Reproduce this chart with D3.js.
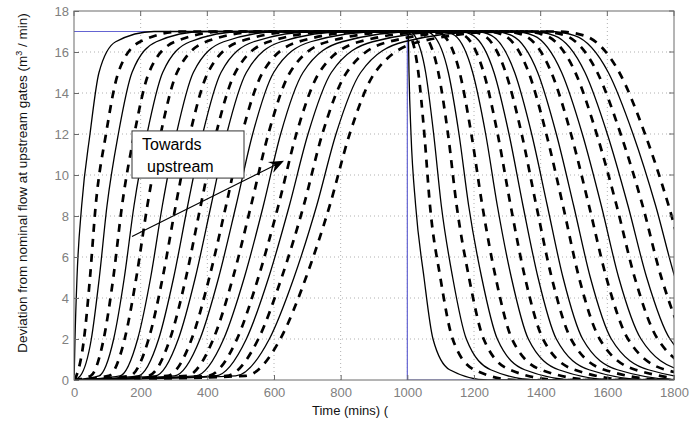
<!DOCTYPE html>
<html>
<head>
<meta charset="utf-8">
<script src="https://cdn.jsdelivr.net/npm/d3@7"></script>
<style>
  html, body { margin: 0; padding: 0; background: #fff; }
  svg { display: block; font-family: "Liberation Sans", Arial, sans-serif; }
</style>
</head>
<body>
<svg id="chart" width="690" height="425"></svg>
<script>
// Axis ticks
const xTicks = [0, 200, 400, 600, 800, 1000, 1200, 1400, 1600, 1800];
const yTicks = [0, 2, 4, 6, 8, 10, 12, 14, 16, 18];

// Gate-flow set-point (step up at t=0, step down at t=1000)
const setpointT = [0, 1000, 1000, 1800];
const setpointQ = [17, 17, 0, 0];

// Rising branch: time (min) at which each of the 20 gate responses crosses a flow level
const riseLevels = [0.2, 2, 5, 8.5, 12, 15, 16.5];
const riseT02  = [0.5, 7, 19, 50, 75, 104, 138, 167, 192, 223, 244, 280, 301, 338, 365, 401, 425, 457, 485, 514];
const riseT2   = [3, 30, 52, 89, 119, 152, 191, 224, 254, 288, 313, 353, 378, 418, 449, 489, 517, 553, 586, 619];
const riseT5   = [9, 48, 76, 118, 151, 187, 230, 266, 299, 336, 364, 406, 434, 477, 511, 553, 584, 623, 660, 696];
const riseT85  = [23, 65, 99, 144, 180, 220, 265, 305, 341, 380, 411, 456, 486, 531, 568, 613, 646, 689, 728, 767];
const riseT12  = [48, 96, 133, 181, 219, 260, 307, 348, 386, 426, 458, 504, 536, 583, 620, 667, 702, 745, 786, 827];
const riseT15  = [75, 133, 174, 225, 266, 309, 358, 402, 441, 484, 517, 566, 599, 648, 687, 736, 772, 818, 860, 903];
const riseT165 = [125, 198, 247, 303, 348, 396, 449, 496, 539, 584, 621, 673, 710, 761, 804, 856, 896, 944, 990, 1036];
// time at which each response settles on the 17 m3/min plateau / leaves it again
const riseTop  = [240, 323, 387, 453, 507, 562, 622, 677, 726, 778, 821, 879, 922, 980, 1029, 1087, 1133, 1188, 1240, 1292];
const fallTop  = [1000, 1002, 1008, 1035, 1055, 1080, 1110, 1135, 1158, 1185, 1205, 1240, 1260, 1295, 1318, 1350, 1372, 1400, 1425, 1450];

// Falling branch: time (min) at which each response crosses a flow level
const fallLevels = [16.8, 15, 12, 8.5, 5, 2, 0.5];
const fallT168 = [1003, 1010, 1022, 1054, 1079, 1109, 1143, 1172, 1198, 1230, 1253, 1291, 1314, 1352, 1379, 1416, 1441, 1474, 1502, 1531];
const fallT15  = [1005, 1033, 1055, 1093, 1123, 1157, 1196, 1229, 1260, 1295, 1322, 1364, 1391, 1432, 1463, 1504, 1533, 1570, 1603, 1636];
const fallT12  = [1011, 1051, 1079, 1122, 1155, 1192, 1235, 1271, 1305, 1343, 1373, 1417, 1447, 1491, 1525, 1568, 1600, 1640, 1677, 1713];
const fallT85  = [1025, 1068, 1102, 1148, 1184, 1225, 1270, 1310, 1347, 1387, 1420, 1467, 1499, 1545, 1582, 1628, 1662, 1706, 1745, 1784];
const fallT5   = [1050, 1099, 1136, 1185, 1223, 1265, 1312, 1353, 1392, 1433, 1467, 1515, 1549, 1597, 1634, 1682, 1718, 1762, 1803, 1844];
const fallT2   = [1077, 1136, 1177, 1229, 1270, 1314, 1363, 1407, 1447, 1491, 1526, 1577, 1612, 1662, 1701, 1751, 1788, 1835, 1877, 1920];
const fallT05  = [1127, 1201, 1250, 1307, 1352, 1401, 1454, 1501, 1545, 1591, 1630, 1684, 1723, 1775, 1818, 1871, 1912, 1961, 2007, 2053];
const fallZero = [1242, 1326, 1390, 1457, 1511, 1567, 1627, 1682, 1732, 1785, 1830, 1890, 1935, 1994, 2043, 2102, 2149, 2205, 2257, 2309];

const plateau = 17;

// Layout
const plotLeft = 74, plotRight = 674, plotTop = 11, plotBottom = 380;

const svg = d3.select("#chart");
const x = d3.scaleLinear().domain([0, 1800]).range([plotLeft, plotRight]);
const y = d3.scaleLinear().domain([0, 18]).range([plotBottom, plotTop]);

const gridColor = "#b0b0b0";
const frameColor = "#6a6a6a";
const tickText = "#808080";

// Dotted grid
const grid = svg.append("g");
grid.selectAll("line.vg").data(xTicks.slice(1, -1)).join("line")
  .attr("x1", d => x(d)).attr("x2", d => x(d))
  .attr("y1", plotTop).attr("y2", plotBottom)
  .attr("stroke", gridColor).attr("stroke-width", 1).attr("stroke-dasharray", "1,3");
grid.selectAll("line.hg").data(yTicks.slice(1, -1)).join("line")
  .attr("x1", plotLeft).attr("x2", plotRight)
  .attr("y1", d => y(d)).attr("y2", d => y(d))
  .attr("stroke", gridColor).attr("stroke-width", 1).attr("stroke-dasharray", "1,3");

// Clip for the curves
svg.append("defs").append("clipPath").attr("id", "plotClip")
  .append("rect").attr("x", plotLeft).attr("y", plotTop)
  .attr("width", plotRight - plotLeft).attr("height", plotBottom - plotTop);

const plot = svg.append("g").attr("clip-path", "url(#plotClip)");

// Set-point line
const spLine = d3.line().x(d => x(d[0])).y(d => y(d[1]));
plot.append("path")
  .attr("d", spLine(setpointT.map((t, i) => [t, setpointQ[i]])))
  .attr("fill", "none").attr("stroke", "#6464d2").attr("stroke-width", 1.2);

// Gate responses
const riseCols = [riseT02, riseT2, riseT5, riseT85, riseT12, riseT15, riseT165];
const fallCols = [fallT168, fallT15, fallT12, fallT85, fallT5, fallT2, fallT05];

const curve = d3.line().x(d => x(d[0])).y(d => y(d[1])).curve(d3.curveMonotoneX);

const responses = riseT85.map((_, i) => {
  const pts = [[0, 0]];
  riseCols.forEach((col, k) => pts.push([col[i], riseLevels[k]]));
  pts.push([riseTop[i], plateau]);
  pts.push([fallTop[i], plateau]);
  fallCols.forEach((col, k) => pts.push([col[i], fallLevels[k]]));
  pts.push([fallZero[i], 0]);
  pts.push([2600, 0]);
  return pts;
});

plot.selectAll("path.resp").data(responses).join("path")
  .attr("class", "resp")
  .attr("d", d => curve(d))
  .attr("fill", "none")
  .attr("stroke", "#000")
  .attr("stroke-width", (d, i) => i % 2 === 0 ? 1.3 : 2.7)
  .attr("stroke-dasharray", (d, i) => i % 2 === 0 ? null : "8,7");

// Frame
svg.append("rect").attr("x", plotLeft).attr("y", plotTop)
  .attr("width", plotRight - plotLeft).attr("height", plotBottom - plotTop)
  .attr("fill", "none").attr("stroke", frameColor).attr("stroke-width", 1);

// Axes (ticks drawn inward, labels in grey)
const xAxis = d3.axisBottom(x).tickValues(xTicks).tickSize(-5).tickPadding(8).tickFormat(d3.format("d"));
const gx = svg.append("g").attr("transform", `translate(0,${plotBottom})`).call(xAxis);
const yAxis = d3.axisLeft(y).tickValues(yTicks).tickSize(-5).tickPadding(5).tickFormat(d3.format("d"));
const gy = svg.append("g").attr("transform", `translate(${plotLeft},0)`).call(yAxis);
[gx, gy].forEach(g => {
  g.select(".domain").remove();
  g.selectAll(".tick line").attr("stroke", frameColor);
  g.selectAll(".tick text").attr("fill", tickText).attr("font-size", 13)
    .attr("font-family", "Liberation Sans, Arial, sans-serif");
});
// top/right ticks
svg.append("g").selectAll("line").data(xTicks).join("line")
  .attr("x1", d => x(d)).attr("x2", d => x(d)).attr("y1", plotTop).attr("y2", plotTop + 5)
  .attr("stroke", frameColor);
svg.append("g").selectAll("line").data(yTicks).join("line")
  .attr("x1", plotRight - 5).attr("x2", plotRight).attr("y1", d => y(d)).attr("y2", d => y(d))
  .attr("stroke", frameColor);

// Axis titles
svg.append("text").attr("x", 312).attr("y", 415)
  .attr("font-size", 13).attr("fill", "#111").text("Time (mins) (");

const yt = svg.append("text")
  .attr("transform", "translate(27,183) rotate(-90)")
  .attr("text-anchor", "middle").attr("font-size", 13.5).attr("fill", "#111");
yt.append("tspan").text("Deviation from nominal flow at upstream gates (m");
yt.append("tspan").attr("dy", -5).attr("font-size", 9).text("3");
yt.append("tspan").attr("dy", 5).text(" / min)");

// Annotation: arrow and text box
const a0 = [174, 7.0], a1 = [630, 10.7];
const ax0 = x(a0[0]), ay0 = y(a0[1]), ax1 = x(a1[0]), ay1 = y(a1[1]);
const ang = Math.atan2(ay1 - ay0, ax1 - ax0);
svg.append("line").attr("x1", ax0).attr("y1", ay0)
  .attr("x2", ax1 - 8 * Math.cos(ang)).attr("y2", ay1 - 8 * Math.sin(ang))
  .attr("stroke", "#000").attr("stroke-width", 1.1);
const head = [[0, 0], [-15, -6], [-10, 0], [-15, 6]];
svg.append("path")
  .attr("d", d3.line()(head) + "Z")
  .attr("transform", `translate(${ax1},${ay1}) rotate(${ang * 180 / Math.PI})`)
  .attr("fill", "#000");

const bx0 = x(174), by0 = y(12.15), bx1 = x(510), by1 = y(9.85);
svg.append("rect").attr("x", bx0).attr("y", by0).attr("width", bx1 - bx0).attr("height", by1 - by0)
  .attr("fill", "#fff").attr("stroke", "#333").attr("stroke-width", 1);
svg.append("text").attr("x", bx0 + 10).attr("y", by0 + 19).attr("font-size", 16).attr("fill", "#000").text("Towards");
svg.append("text").attr("x", bx0 + 15).attr("y", by0 + 41).attr("font-size", 16).attr("fill", "#000").text("upstream");
</script>
</body>
</html>
